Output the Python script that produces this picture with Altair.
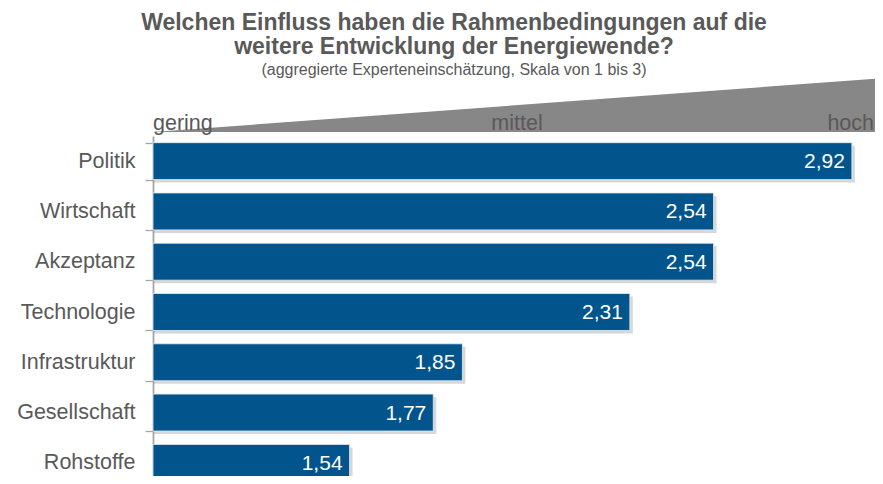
import altair as alt
import pandas as pd

categories = ["Politik", "Wirtschaft", "Akzeptanz", "Technologie",
              "Infrastruktur", "Gesellschaft", "Rohstoffe"]
values = [2.92, 2.54, 2.54, 2.31, 1.85, 1.77, 1.54]

scale_labels = ["gering", "mittel", "hoch"]
scale_positions = [1.0, 2.0, 3.0]
scale_aligns = ["left", "center", "right"]

wedge_x = [1.0, 3.01]
wedge_top = [0.0, 1.0]

title_lines = ["Welchen Einfluss haben die Rahmenbedingungen auf die",
               "weitere Entwicklung der Energiewende?"]
subtitle = "(aggregierte Experteneinschätzung, Skala von 1 bis 3)"

FONT = "Liberation Sans"
GRAY = "#595959"
BLUE = "#02558C"

bars_df = pd.DataFrame({"category": categories, "value": values})
wedge_df = pd.DataFrame({"x": wedge_x, "top": wedge_top, "base": [0.0, 0.0]})
lab_df = pd.DataFrame({"label": scale_labels, "pos": scale_positions,
                       "align": scale_aligns, "y": [0.0, 0.0, 0.0]})

xscale = alt.Scale(domain=[1, 3], range=[0, 728], nice=False, zero=False)
yband = alt.Scale(domain=categories, range=[0, 352], paddingInner=0.265,
                  paddingOuter=0.1325)
wscale = alt.Scale(domain=[0, 1], range=[-4, -58], nice=False, zero=False)

xaxis = alt.Axis(values=[1, 1.5, 2, 2.5, 3], labels=False, ticks=False,
                 domain=False, grid=True, gridColor="#a6a6a6",
                 gridWidth=1.3, title=None)
yaxis = alt.Axis(title=None, labelFont=FONT, labelFontSize=21.5,
                 labelColor=GRAY, tickBand="extent", tickSize=8,
                 tickColor="#a6a6a6", tickWidth=1.3, domainColor="#a6a6a6",
                 domainWidth=1.8, labelPadding=10)

base = alt.Chart(bars_df)

shadow = base.mark_bar(color="#9a9a9a", opacity=0.4, xOffset=3,
                       yOffset=3).encode(
    x=alt.X("value:Q", scale=xscale, axis=xaxis),
    x2=alt.datum(1),
    y=alt.Y("category:N", scale=yband, axis=yaxis, sort=categories),
)

bars = base.mark_bar(color=BLUE, stroke="#e8eef4", strokeWidth=0.8).encode(
    x=alt.X("value:Q", scale=xscale, axis=xaxis),
    x2=alt.datum(1),
    y=alt.Y("category:N", scale=yband, axis=yaxis, sort=categories),
)

vals = base.transform_calculate(
    label="replace(format(datum.value, '.2f'), '.', ',')"
).mark_text(align="right", baseline="middle", dx=-7, dy=1, color="white",
            font=FONT, fontSize=21).encode(
    x=alt.X("value:Q", scale=xscale),
    y=alt.Y("category:N", scale=yband, sort=categories),
    text="label:N",
)

wedge = alt.Chart(wedge_df).mark_area(color="#878787").encode(
    x=alt.X("x:Q", scale=xscale),
    y=alt.Y("top:Q", scale=wscale, axis=None),
    y2=alt.Y2("base:Q"),
)

label_layers = []
for lab, al, ddx in zip(scale_labels, scale_aligns, [0, 0, -7]):
    label_layers.append(
        alt.Chart(lab_df).transform_filter(alt.datum.label == lab)
        .mark_text(align=al, baseline="alphabetic", dx=ddx, dy=-2,
                   font=FONT, fontSize=21.5, color=GRAY)
        .encode(x=alt.X("pos:Q", scale=xscale),
                y=alt.Y("y:Q", scale=wscale, axis=None),
                text="label:N")
    )

main = alt.layer(shadow, bars, vals)
top = alt.layer(wedge, *label_layers)

chart = alt.layer(top, main).resolve_scale(y="independent").properties(
    width=722,
    height=340,
    padding={"left": 145, "top": 128, "right": 0, "bottom": 0},
    autosize=alt.AutoSizeParams(type="none"),
    title=alt.TitleParams(
        text=title_lines, subtitle=subtitle, font=FONT, fontSize=23,
        fontWeight="bold", color=GRAY, lineHeight=24, anchor="middle",
        dx=-60, dy=0, subtitleFont=FONT, subtitleFontSize=16,
        subtitleColor=GRAY, subtitlePadding=3, offset=0,
    ),
).configure_view(stroke=None)

chart.save("out.html", embed_options={"renderer": "svg", "actions": False})
